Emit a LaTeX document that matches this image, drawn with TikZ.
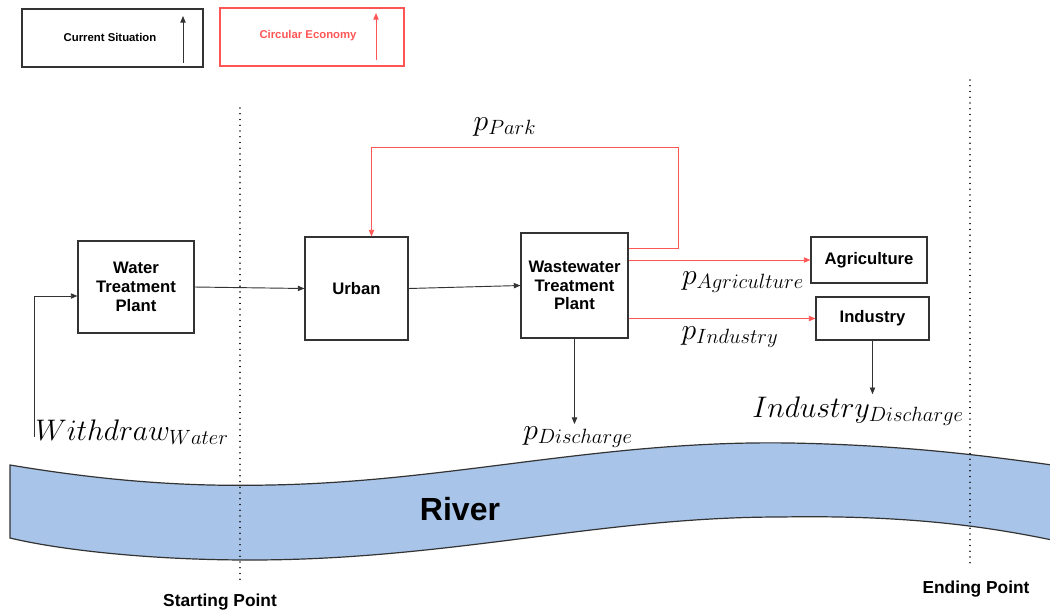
\documentclass[tikz,border=0pt]{standalone}
\usepackage{graphicx}
\usepackage{fontspec}
\setsansfont{Liberation Sans}
\usetikzlibrary{arrows.meta,calc}
\definecolor{riverblue}{HTML}{A8C4E8}
\definecolor{ink}{HTML}{333333}
\definecolor{ered}{HTML}{FF5555}
\newcommand{\mlab}[1]{\scalebox{1.075}{$#1$}}
\tikzset{
  box/.style={draw=ink, line width=0.8pt, font=\sffamily\bfseries\fontsize{12.5}{14}\selectfont, align=center, inner sep=0pt},
  legbox/.style={draw=ink, line width=1pt, minimum height=43.5pt, inner sep=0pt},
  arr/.style={draw=ink, line width=0.7pt, -{Triangle[length=5pt,width=4pt]}},
  rarr/.style={draw=ered, line width=0.7pt, -{Triangle[length=5pt,width=4pt]}},
  mlabel/.style={inner sep=0pt, font=\fontsize{20.74}{24}\selectfont},
  vline/.style={draw=black, line width=1.1pt, dash pattern=on 0.01pt off 4.3pt, line cap=round},
  ptlabel/.style={font=\sffamily\bfseries\fontsize{13}{15}\selectfont, inner sep=0pt}
}
\begin{document}
\begin{tikzpicture}[x=0.75pt,y=-0.75pt]
\useasboundingbox (0,0) rectangle (1050,611);
% river
\fill[riverblue] (10,465) .. controls (100,480) and (180,487) .. (270,485) .. controls (450,482) and (600,440) .. (790,443) .. controls (900,445) and (980,455) .. (1052,465) -- (1052,540) .. controls (980,525) and (900,515) .. (780,517) .. controls (600,517) and (450,560) .. (250,560) .. controls (150,560) and (60,550) .. (10,538) -- cycle;
\draw[ink, line width=0.9pt] (1052,465) .. controls (980,455) and (900,445) .. (790,443) .. controls (600,440) and (450,482) .. (270,485) .. controls (180,487) and (100,480) .. (10,465) -- (10,538) .. controls (60,550) and (150,560) .. (250,560) .. controls (450,560) and (600,517) .. (780,517) .. controls (900,515) and (980,525) .. (1052,540);
\node[font=\sffamily\bfseries\fontsize{24}{26}\selectfont, inner sep=0pt] (river) at (460,509) {River};
% dotted lines
\draw[vline] (240,108) -- (240,580);
\draw[vline] (970,80) -- (970,565);
\node[ptlabel] (start) at (220,602) {Starting Point};
\node[ptlabel] (endp) at (976,589) {Ending Point};
% legend
\node[legbox, minimum width=135.75pt] (leg1) at (112.5,38) {};
\node[font=\sffamily\bfseries\fontsize{8.5}{10}\selectfont, inner sep=0pt] (leg1t) at (110,37) {Current Situation};
\coordinate (l1a) at (183,63);
\coordinate (l1b) at (183,16);
\draw[arr] (l1a) -- (l1b);
\node[legbox, draw=ered, minimum width=138pt] (leg2) at (312,37) {};
\node[font=\sffamily\bfseries\fontsize{8.5}{10}\selectfont, text=ered, inner sep=0pt] (leg2t) at (308,36) {Circular Economy};
\coordinate (l2a) at (376,60);
\coordinate (l2b) at (376,13);
\draw[rarr] (l2a) -- (l2b);
% boxes
\node[box, minimum width=87pt, minimum height=69pt] (wtp) at (136,287) {Water\\Treatment\\Plant};
\node[box, minimum width=77.25pt, minimum height=77.25pt] (urban) at (356.5,288.5) {Urban};
\node[box, minimum width=80.25pt, minimum height=78.75pt] (wwtp) at (574.5,285.5) {Wastewater\\Treatment\\Plant};
\node[box, minimum width=87pt, minimum height=34.5pt] (agri) at (869,260) {Agriculture};
\node[box, minimum width=84.75pt, minimum height=32.25pt] (ind) at (872.5,318.5) {Industry};
% labels
\node[mlabel] (withdraw) at (132,432) {\mlab{Withdraw_{Water}}};
\node[mlabel] (ppark) at (505,127) {\mlab{p_{Park}}};
\node[mlabel] (pagri) at (743,282) {\mlab{p_{Agriculture}}};
\node[mlabel] (pind) at (730,337) {\mlab{p_{Industry}}};
\node[mlabel] (pdis) at (578,437) {\mlab{p_{Discharge}}};
\node[mlabel] (idis) at (858,411) {\mlab{Industry_{Discharge}}};
% connectors
\coordinate (w0) at (34,437);
\coordinate (w1) at (0,296);
\draw[arr] (w0) |- (wtp.west |- w1);
\draw[arr] (wtp.east) -- (urban.west);
\draw[arr] (urban.east) -- (wwtp.west);
\coordinate (pk) at (678,147);
\draw[rarr] ($(wwtp.north east)+(0,16)$) -| (pk) -| ($(urban.north)+(15,0)$);
\draw[rarr] (wwtp.east |- agri.west) -- (agri.west);
\draw[rarr] (wwtp.east |- ind.west) -- (ind.west);
\draw[arr] (wwtp.south) -- ($(wwtp.south |- pdis.north)+(0,-2)$);
\draw[arr] (ind.south) -- ($(ind.south |- idis.north)+(0,-2)$);
\end{tikzpicture}
\end{document}
